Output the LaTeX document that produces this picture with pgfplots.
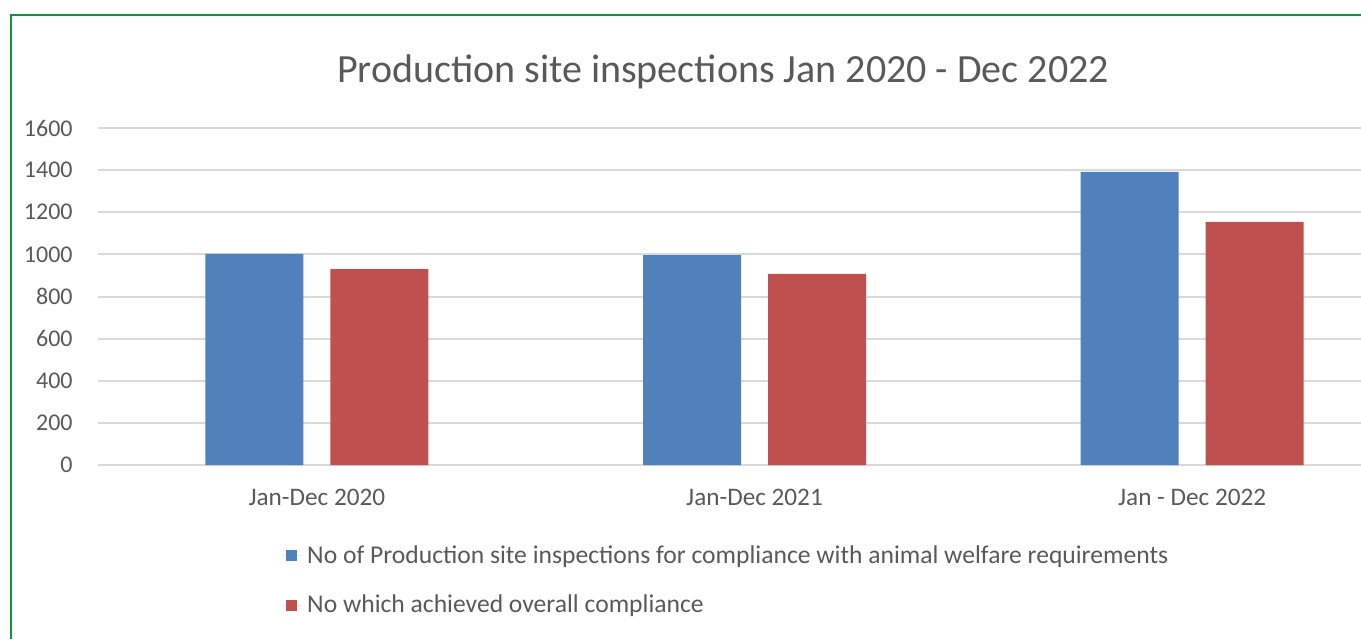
\documentclass[border=0pt]{standalone}
\usepackage{fontspec}
\setmainfont{Carlito}
\usepackage{pgfplots}
\pgfplotsset{compat=1.18}
\definecolor{barblue}{HTML}{4F81BD}
\definecolor{barred}{HTML}{C0504D}
\definecolor{txt}{HTML}{595959}
\definecolor{gridc}{HTML}{D9D9D9}
\definecolor{framec}{HTML}{0A9A3A}
\pgfplotsset{sqlegend/.style={legend image code/.code={\fill[##1, draw=none] (2pt,-2.75pt) rectangle (7.5pt,2.75pt); \path (0pt,0pt) -- (10pt,0pt);}}}
\begin{document}
\begin{tikzpicture}[x=1pt,y=1pt]
\begin{axis}[
  at={(49pt,87pt)}, anchor=south west,
  scale only axis, width=656.5pt, height=168.5pt,
  xmin=-0.5, xmax=2.5, ymin=0, ymax=1600,
  ytick={0,200,...,1600},
  xtick={0,1,2},
  xticklabels={Jan-Dec 2020, Jan-Dec 2021, Jan - Dec 2022},
  axis line style={draw=none},
  major tick length=0pt,
  ymajorgrids, grid style={draw=gridc, line width=1pt},
  tick label style={font=\fontsize{12}{14}\selectfont, text=txt},
  yticklabel style={inner sep=0pt, anchor=east, xshift=-12.5pt},
  xticklabel style={inner sep=0pt, anchor=north, yshift=-12pt, font=\fontsize{12.6}{14}\selectfont},
  /pgf/number format/assume math mode=true,
  /pgf/number format/1000 sep={},
  ybar, bar width=49pt,
  legend style={draw=none, fill=none, at={(0.140,-0.2226)}, anchor=north west,
    legend cell align=left, row sep=9.5pt, inner sep=0pt,
    font=\fontsize{12.8}{15}\selectfont, text=txt,
    nodes={inner sep=2.5pt}},
  legend columns=1,
]
\addplot[fill=barblue, draw=none, bar shift=-31.25pt, sqlegend] coordinates {(0,1002) (1,997) (2,1392)};
\addplot[fill=barred, draw=none, bar shift=31.25pt, sqlegend] coordinates {(0,930) (1,907) (2,1154)};
\legend{No of Production site inspections for compliance with animal welfare requirements, No which achieved overall compliance}
\end{axis}
\node[anchor=base, font=\fontsize{20}{24}\selectfont, text=txt, inner sep=0pt] at (361.5,278.5) {Production site inspections Jan 2020 - Dec 2022};
\draw[framec, line width=1pt] (5.25,0) -- (5.25,311.75) -- (700,311.75);
\pgfresetboundingbox
\path[use as bounding box] (0,0) rectangle (680.5,319.5);
\end{tikzpicture}
\end{document}
